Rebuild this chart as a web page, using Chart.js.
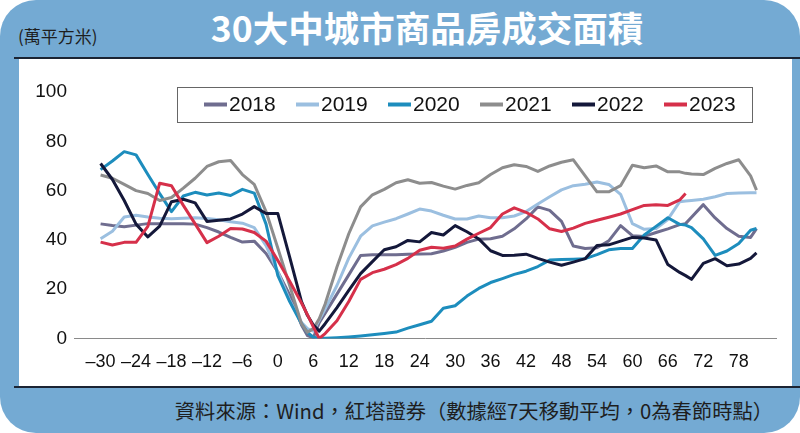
<!DOCTYPE html>
<html>
<head>
<meta charset="utf-8">
<script src="https://cdn.jsdelivr.net/npm/chart.js@4"></script>
<style>
  html, body { margin:0; padding:0; background:#ffffff; }
  #wrap { position:relative; width:800px; height:433px; overflow:hidden; background:#ffffff; }
  #card { position:absolute; left:0; top:0; width:800px; height:433px; background:#74aad3; border-radius:36px; }
  #panel { position:absolute; left:19px; top:59px; width:773px; height:328px; background:#ffffff; }
  .rule { position:absolute; left:14px; width:786px; height:2px; background:#1b2433; }
  #title { position:absolute; left:127px; width:600px; top:7px; text-align:center; color:#ffffff;
           font-family:"Noto Sans CJK TC","Noto Sans CJK SC",sans-serif; font-weight:700; font-size:35.5px; line-height:40px; }
  #unit { position:absolute; left:18px; top:25px; color:#1e1e1e; font-family:"Noto Sans CJK TC",sans-serif; font-size:17px; line-height:22px; }
  #source { position:absolute; right:27px; top:399px; color:#1e1e1e; font-family:"Noto Sans CJK TC",sans-serif; font-size:20.3px; line-height:22px; white-space:nowrap; }
  canvas { position:absolute; left:0; top:0; }
</style>
</head>
<body>
<div id="wrap">
  <div id="card"></div>
  <div id="panel"></div>
  <div class="rule" style="top:57px"></div>
  <div class="rule" style="top:386px"></div>
  <div id="title">30大中城市商品房成交面積</div>
  <div id="unit">(萬平方米)</div>
  <div id="source">資料來源：Wind，紅塔證券（數據經7天移動平均，0為春節時點）</div>
  <canvas id="c" width="800" height="433"></canvas>
</div>
<script>
// Days relative to Spring Festival (x positions of samples)
const days = [-30,-28,-26,-24,-22,-20,-18,-16,-14,-12,-10,-8,-6,-4,-2,0,2,4,5,6,7,8,
  10,12,14,16,18,20,22,24,26,28,30,32,34,36,38,40,42,44,46,48,50,52,54,56,58,60,62,64,66,68,69,70,72,74,76,78,80,81];

const seriesNames = ['2018','2019','2020','2021','2022','2023'];

const s2018 = [46.5,45.8,45.3,46,46.6,46.6,46.6,46.6,46.4,45,43.2,41,39.1,39.5,34.5,27,17.7,5.5,1.2,0.3,6.4,10.3,
  18,25.8,33.7,34,34,34,34.2,34.3,34.4,35.5,37,39,40.3,40.5,41.5,44.5,48.5,53.4,52,47.5,37.5,36.5,36.8,39.6,45.8,41.7,41.4,43,44.5,46.2,46.6,49.2,54.3,48.9,44.6,41.5,41,44.6];
const s2019 = [40.5,43.5,49.3,50,49.3,48.8,48.6,48.8,49,48.7,48.2,47.4,46.8,45,37.7,27,15.5,6.5,4,3,7.5,12,
  21.5,32.6,41.5,45.7,47.2,48.6,50.5,52.5,51.7,50,48.5,48.5,49.7,49,49,49.7,51.5,54.6,57.5,60.3,62,62.6,63.5,62.5,58.5,46.6,44.3,44.6,48.3,55.5,55.8,56,56.5,57.5,58.8,59,59.1,59.1];
const s2020 = [68.5,72,75.8,74.5,66.5,58.8,51.5,57.8,59.3,58.2,59,58,60.5,59,46.4,25.5,15,6,2.5,0.5,0.1,0.1,
  0.3,0.6,1,1.5,2,2.6,4.2,5.6,7,12.3,13.3,17.2,20.3,22.7,24.3,26,27.3,29.2,31.8,32,32.2,32.4,34,36,36.5,36.5,42,45.5,49,46.3,46,45,40.4,33.7,35.5,38.5,43.9,44.6];
const s2021 = [66.3,65,62.5,60,58.8,56,57.2,61,65,69.8,71.7,72.2,66.5,62.5,51.5,36.6,21.5,6,2.5,4,8,14,
  29,42.5,53.4,58.3,60.5,63.2,64.4,63,63.3,61.8,60.6,62.1,63.2,66.5,69.3,70.5,69.8,67.8,70,71.5,72.5,66,59.5,59.5,62,70.3,69.3,70,67.6,67.6,67,66.7,66.5,69,71,72.5,66,60.2];
const s2022 = [71,64.5,56,46.4,41.2,45.6,55.5,56.5,55,47.5,48,48.5,50.5,53.5,50.7,50.7,33,15,9.4,5.5,3,6,
  12.5,19.5,26.3,31.2,36,37.2,39.8,39.2,43,42,45.8,43.3,40.4,35.6,33.7,33.8,34.2,32.5,31,29.7,31,32.4,37.7,38,39.5,41,40.8,40,30,26.8,25.5,24,30.5,32.4,29.5,30.2,32.5,34.7];
const s2023 = [39.1,37.9,39,39,45.5,63,62,54,46.5,38.9,41.5,44.6,44.4,43,39.5,31.6,23.2,14.4,9.7,4.7,0,2,
  7.2,15,24,26.7,28.1,30,32.5,35.8,37,36.6,37.5,40.3,42.7,45,50.5,53,51.2,48.5,44.5,43.4,44.8,46.7,48,49.2,50.5,52.3,54,54.3,54,56.2,58.8,null,null,null,null,null,null,null];

const xTickValues = [-30,-24,-18,-12,-6,0,6,12,18,24,30,36,42,48,54,60,66,72,78];
const xTickLabels = ['–30','–24','–18','–12','–6','0','6','12','18','24','30','36','42','48','54','60','66','72','78'];
const yTickValues = [0,20,40,60,80,100];

const colors = ['#6f6d8f','#9bbfe0','#1d8dbd','#8d8d8d','#14183a','#d6304a'];
const allSeries = [s2018,s2019,s2020,s2021,s2022,s2023];

const datasets = allSeries.map((vals, i) => ({
  label: seriesNames[i],
  data: days.map((d, k) => ({x: d, y: vals[k]})).filter(p => p.y !== null),
  borderColor: colors[i],
  backgroundColor: colors[i],
  borderWidth: 3,
  pointRadius: 0,
  tension: 0,
  fill: false,
  borderJoinStyle: 'round',
  order: allSeries.length - 1 - i
}));

const legendPlugin = {
  id: 'boxLegend',
  afterDatasetsDraw(chart) {
    const ctx = chart.ctx;
    ctx.save();
    ctx.fillStyle = '#ffffff';
    ctx.fillRect(177.5, 87.5, 575, 35);
    ctx.strokeStyle = '#666666';
    ctx.lineWidth = 1;
    ctx.strokeRect(177.5, 87.5, 575, 35);
    ctx.font = '21px "Liberation Sans", Arial, sans-serif';
    ctx.textBaseline = 'middle';
    ctx.textAlign = 'left';
    chart.data.datasets.forEach((ds, i) => {
      const x0 = 204 + i * 92;
      ctx.fillStyle = ds.borderColor;
      ctx.fillRect(x0, 102.5, 23, 4);
      ctx.fillStyle = '#111111';
      ctx.fillText(ds.label, x0 + 25, 105.5);
    });
    ctx.restore();
  }
};

new Chart(document.getElementById('c'), {
  type: 'line',
  data: { datasets },
  plugins: [legendPlugin],
  options: {
    responsive: false,
    animation: false,
    devicePixelRatio: 1,
    layout: { padding: { left: 0, top: 92, right: 24, bottom: 54.5 } },
    plugins: { legend: { display: false }, tooltip: { enabled: false }, title: { display: false } },
    scales: {
      x: {
        type: 'linear',
        min: -34.5,
        max: 84.3,
        afterBuildTicks: (scale) => { scale.ticks = xTickValues.map(v => ({ value: v })); },
        afterFit: (scale) => { scale.height = 40; },
        grid: { display: false, drawTicks: false },
        border: { display: true, color: '#8a8a8a', width: 1 },
        ticks: {
          autoSkip: false,
          maxRotation: 0,
          padding: 13,
          color: '#111111',
          font: { family: '"Liberation Sans", Arial, sans-serif', size: 18 },
          callback: (v) => { const k = xTickValues.indexOf(v); return k >= 0 ? xTickLabels[k] : ''; }
        }
      },
      y: {
        min: 0,
        max: 100,
        afterBuildTicks: (scale) => { scale.ticks = yTickValues.map(v => ({ value: v })); },
        afterFit: (scale) => { scale.width = 74; },
        grid: { display: false, drawTicks: false },
        border: { display: false },
        ticks: {
          padding: 7,
          color: '#111111',
          font: { family: '"Liberation Sans", Arial, sans-serif', size: 19 }
        }
      }
    }
  }
});
</script>
</body>
</html>
